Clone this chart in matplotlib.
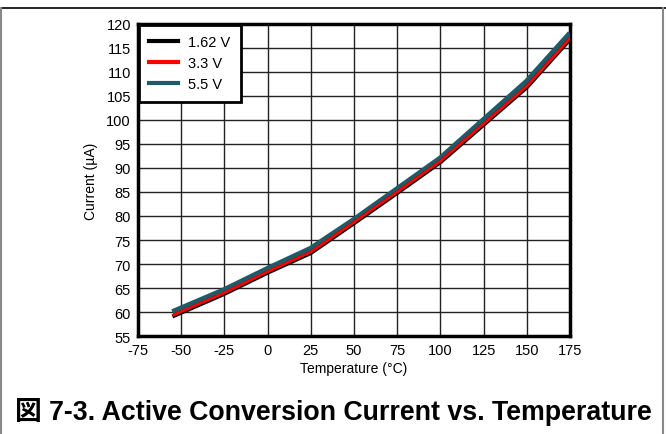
import matplotlib
matplotlib.use("Agg")
import matplotlib.pyplot as plt
from matplotlib.lines import Line2D

plt.rcParams["font.family"] = ["Liberation Sans", "Noto Sans CJK JP", "DejaVu Sans"]
plt.rcParams["axes.unicode_minus"] = False

temperature = [-55, -25, 0, 25, 50, 75, 100, 125, 150, 175]
current_162 = [59.1, 63.8, 68.2, 72.3, 78.5, 84.8, 91.2, 99.0, 106.8, 116.8]
current_33 = [59.3, 64.0, 68.4, 72.5, 78.7, 85.0, 91.4, 99.2, 107.0, 117.0]
current_55 = [60.0, 64.6, 69.0, 73.2, 79.2, 85.6, 92.0, 100.0, 108.0, 118.0]

x_ticks = list(range(-75, 176, 25))
y_ticks = list(range(55, 121, 5))

fig = plt.figure(figsize=(6.66, 4.35), dpi=100)
ax = fig.add_axes([0.207, 0.225, 0.649, 0.718])

ax.plot(temperature, current_55, color="#1f5a68", linewidth=4.2, solid_capstyle="butt", zorder=3)
ax.plot(temperature, current_162, color="black", linewidth=3.0, solid_capstyle="butt", zorder=4)
ax.plot(temperature, current_33, color="#ff0000", linewidth=2.0, solid_capstyle="butt", zorder=5)

ax.set_xlim(-75, 175)
ax.set_ylim(55, 120)
ax.set_xticks(x_ticks)
ax.set_yticks(y_ticks)
ax.tick_params(length=0, labelsize=10.5, pad=5)
ax.grid(True, color="#222222", linewidth=1.0)
for spine in ax.spines.values():
    spine.set_linewidth(2.5)
ax.set_xlabel("Temperature (°C)", fontsize=10, labelpad=3)
ax.set_ylabel("Current (µA)", fontsize=10, labelpad=6)

handles = [
    Line2D([], [], color="black", linewidth=3),
    Line2D([], [], color="#ff0000", linewidth=3),
    Line2D([], [], color="#1f5a68", linewidth=3),
]
leg = ax.legend(handles, ["1.62 V", "3.3 V", "5.5 V"], loc="upper left",
                fontsize=10.5, frameon=True, fancybox=False, framealpha=1,
                borderaxespad=0.05, handlelength=2.0, labelspacing=0.5,
                borderpad=0.7, handletextpad=0.7)
leg.get_frame().set_edgecolor("black")
leg.get_frame().set_linewidth(2.0)
leg.set_zorder(10)

fig.text(0.5, 0.053, "図 7-3. Active Conversion Current vs. Temperature",
         ha="center", va="center", fontsize=19.3, fontweight="bold")

# outer frame
fig.add_artist(Line2D([0, 1], [0.979, 0.979], color="black", linewidth=1.2, transform=fig.transFigure))
fig.add_artist(Line2D([0.002, 0.002], [0, 0.979], color="#888888", linewidth=1.5, transform=fig.transFigure))
fig.add_artist(Line2D([0.996, 0.996], [0, 0.979], color="#888888", linewidth=1.5, transform=fig.transFigure))

fig.savefig("out.png", dpi=100)
